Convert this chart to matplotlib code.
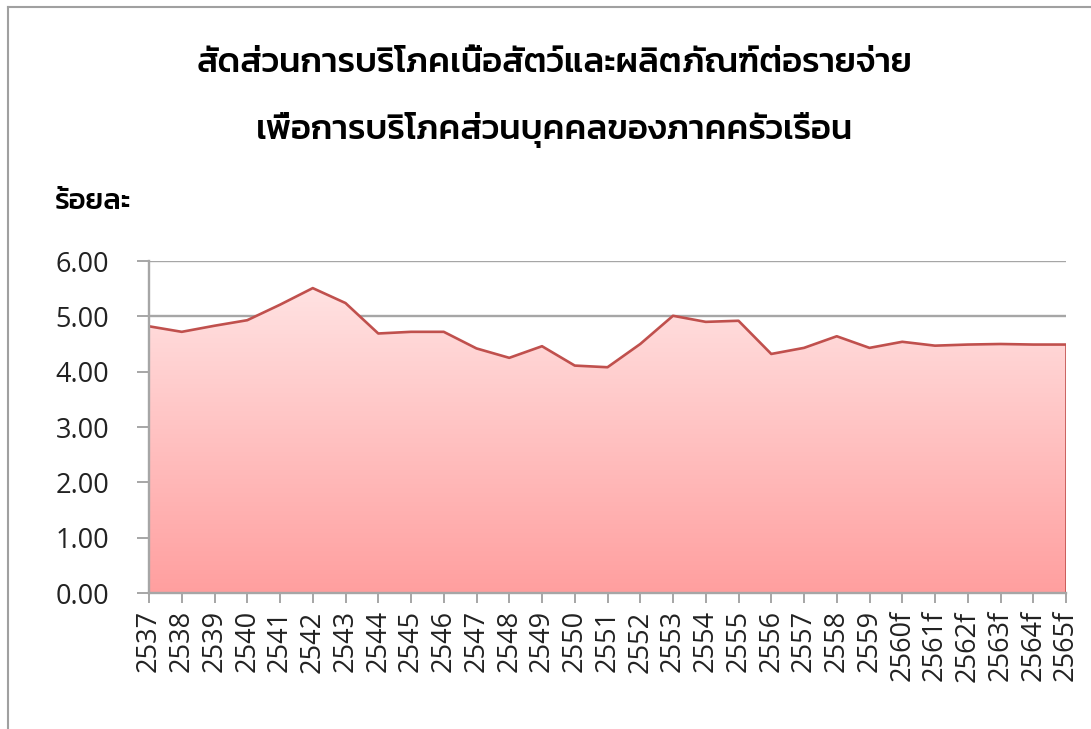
import numpy as np
import matplotlib
matplotlib.use('Agg')
import matplotlib.pyplot as plt
from matplotlib.lines import Line2D

# data
years = ['2537', '2538', '2539', '2540', '2541', '2542', '2543', '2544', '2545', '2546',
         '2547', '2548', '2549', '2550', '2551', '2552', '2553', '2554', '2555', '2556',
         '2557', '2558', '2559', '2560f', '2561f', '2562f', '2563f', '2564f', '2565f']
share = [4.82, 4.72, 4.83, 4.93, 5.21, 5.51, 5.24, 4.69, 4.72, 4.72,
         4.42, 4.25, 4.46, 4.11, 4.08, 4.50, 5.01, 4.90, 4.92, 4.32,
         4.43, 4.64, 4.43, 4.54, 4.47, 4.49, 4.50, 4.49, 4.49]
yticks = [0, 1, 2, 3, 4, 5, 6]

title1 = 'สัดส่วนการบริโภคเนื้อสัตว์และผลิตภัณฑ์ต่อรายจ่าย'
title2 = 'เพื่อการบริโภคส่วนบุคคลของภาคครัวเรือน'
unit = 'ร้อยละ'

thai = ['Kanit', 'DejaVu Sans']
plt.rcParams['font.family'] = ['Open Sans', 'DejaVu Sans']

fig = plt.figure(figsize=(10.91, 7.29), dpi=100)
ax = fig.add_axes([149 / 1091, 1 - 593 / 729, (1066 - 149) / 1091, (593 - 261) / 729])

x = np.arange(len(years))
grid_c = '#a6a6a6'

# gradient fill under the line
poly = ax.fill_between(x, share, 0, color='none', lw=0)
grad = np.linspace(0, 1, 256).reshape(-1, 1)
cmap = matplotlib.colors.LinearSegmentedColormap.from_list('g', ['#ff9f9f', '#ffe2e2'])
img = ax.imshow(grad, cmap=cmap, aspect='auto', origin='lower',
                extent=[0, len(years) - 1, 0, max(share)], zorder=1)
path = poly.get_paths()[0]
img.set_clip_path(path, transform=ax.transData)

ax.plot(x, share, color='#c0504d', lw=1.9, zorder=3)
ax.plot([x[-1], x[-1]], [0, share[-1]], color='#c0504d', lw=1.9, zorder=3)

ax.set_xlim(0, len(years) - 1)
ax.set_ylim(0, 6)
ax.set_yticks(yticks)
ax.set_yticklabels([f'{v:.2f}' for v in yticks], fontsize=19.5, color='#222222')
ax.set_xticks(x)
ax.set_xticklabels(years, rotation=90, fontsize=19.5, color='#222222')
ax.yaxis.grid(True, color=grid_c, lw=1.7, zorder=0)
ax.set_axisbelow(True)
for s in ['top', 'right']:
    ax.spines[s].set_visible(False)
for s in ['left', 'bottom']:
    ax.spines[s].set_color(grid_c)
    ax.spines[s].set_linewidth(1.7)
    ax.spines[s].set_zorder(4)
ax.tick_params(axis='y', length=8.5, width=1.4, color=grid_c, pad=20)
ax.tick_params(axis='x', length=7.5, width=1.4, color=grid_c, pad=5)

fig.text(0.508, 1 - 64 / 729, title1, ha='center', va='center', fontsize=25,
         fontweight='medium', family=thai)
fig.text(0.508, 1 - 130 / 729, title2, ha='center', va='center', fontsize=25,
         fontweight='medium', family=thai)
fig.text(55 / 1091, 1 - 202 / 729, unit, ha='left', va='center', fontsize=21,
         fontweight='medium', family=thai)

# chart frame
fig.add_artist(Line2D([8 / 1091, 8 / 1091], [0, 1 - 7 / 729], color='#a0a0a0', lw=1.5))
fig.add_artist(Line2D([8 / 1091, 1], [1 - 7 / 729, 1 - 7 / 729], color='#a0a0a0', lw=1.5))

fig.savefig('out.png')
